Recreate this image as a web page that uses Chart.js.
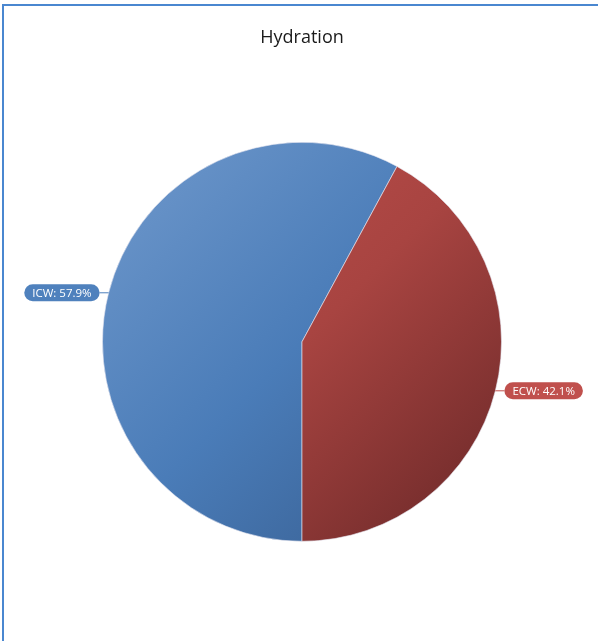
<!DOCTYPE html>
<html>
<head>
<meta charset="utf-8">
<script src="https://cdn.jsdelivr.net/npm/chart.js@4"></script>
<style>
  html, body { margin: 0; padding: 0; background: #fff; }
  #wrap { position: relative; width: 598px; height: 641px; overflow: hidden; }
  #frame { position: absolute; left: 2px; top: 4px; right: 0; bottom: -4px;
           border-top: 2px solid #4a87d0; border-left: 2px solid #4a87d0; }
  #chart { position: absolute; left: 0; top: 0; }
</style>
</head>
<body>
<div id="wrap">
  <div id="frame"></div>
  <canvas id="chart" width="598" height="641"></canvas>
</div>
<script>
const labels = ["ICW", "ECW"];
const values = [57.9, 42.1];
const pillColors = ["#4f81bd", "#c0504d"];
// light -> dark stops for each slice
const gradStops = [
  ["#7099cc", "#4a7cb8", "#34598a"],
  ["#c4524f", "#a84441", "#682727"],
];

function sliceGradient(context) {
  const chart = context.chart;
  const area = chart.chartArea;
  if (!area) return pillColors[context.dataIndex];
  const g = chart.ctx.createLinearGradient(area.left, area.top, area.right, area.bottom);
  const s = gradStops[context.dataIndex];
  g.addColorStop(0, s[0]);
  g.addColorStop(0.5, s[1]);
  g.addColorStop(1, s[2]);
  return g;
}

const pillLabels = {
  id: "pillLabels",
  afterDatasetsDraw(chart) {
    const ctx = chart.ctx;
    const meta = chart.getDatasetMeta(0);
    const total = values.reduce((a, b) => a + b, 0);
    ctx.save();
    ctx.font = "11.5px 'Open Sans', sans-serif";
    meta.data.forEach((arc, i) => {
      const mid = (arc.startAngle + arc.endAngle) / 2;
      const ex = arc.x + Math.cos(mid) * arc.outerRadius;
      const ey = arc.y + Math.sin(mid) * arc.outerRadius;
      const right = Math.cos(mid) >= 0;
      const text = labels[i] + ": " + (values[i] / total * 100).toFixed(1) + "%";
      const w = ctx.measureText(text).width + 16;
      const h = 17;
      const lx = right ? ex + 9 : ex - 9;
      ctx.strokeStyle = pillColors[i];
      ctx.lineWidth = 1;
      ctx.beginPath();
      ctx.moveTo(ex, ey);
      ctx.lineTo(lx, ey);
      ctx.stroke();
      const bx = right ? lx : lx - w;
      ctx.fillStyle = pillColors[i];
      ctx.beginPath();
      ctx.roundRect(bx, ey - h / 2, w, h, h / 2);
      ctx.fill();
      ctx.fillStyle = "#ffffff";
      ctx.textAlign = "center";
      ctx.textBaseline = "middle";
      ctx.fillText(text, bx + w / 2, ey + 0.5);
    });
    ctx.restore();
  },
};

new Chart(document.getElementById("chart").getContext("2d"), {
  type: "pie",
  data: {
    labels: labels,
    datasets: [
      {
        data: values,
        backgroundColor: sliceGradient,
        borderColor: "rgba(230, 230, 240, 0.6)",
        borderWidth: 1,
      },
    ],
  },
  options: {
    responsive: false,
    animation: false,
    rotation: 180,
    layout: { padding: { left: 102, right: 96, top: 0, bottom: 99 } },
    plugins: {
      legend: { display: false },
      tooltip: { enabled: false },
      title: {
        display: true,
        text: "Hydration",
        color: "#1a1a1a",
        font: { family: "'Open Sans', sans-serif", size: 18, weight: "normal" },
        padding: { top: 27, bottom: 93 },
      },
    },
  },
  plugins: [pillLabels],
});
</script>
</body>
</html>
